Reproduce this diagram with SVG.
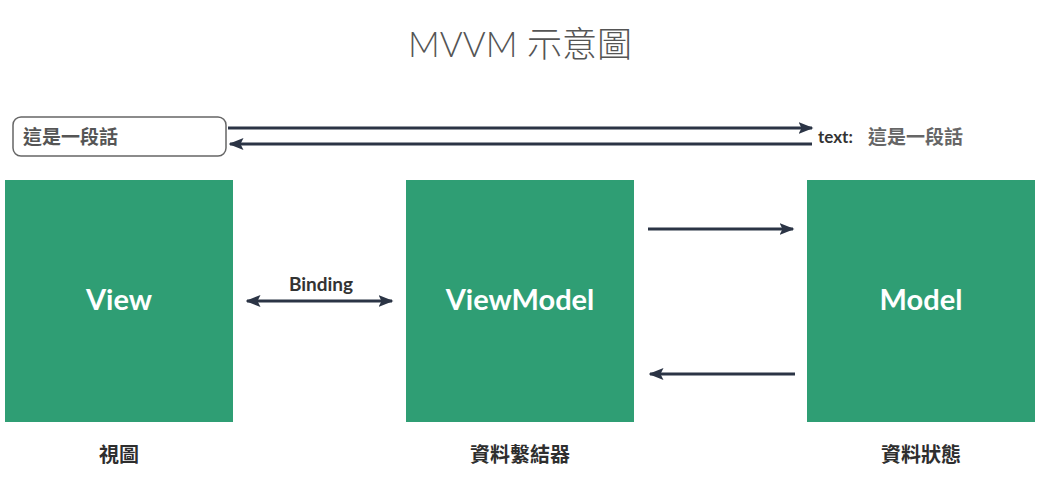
<svg xmlns="http://www.w3.org/2000/svg" width="1047" height="496" viewBox="0 0 1047 496">
<style>
.box{fill:#2f9e74}
.t{font-family:Lato,"Noto Sans CJK TC",sans-serif}
.in{fill:#fff;font-size:29px;font-weight:700;text-anchor:middle}
.lab{fill:#2e2e2e;font-size:20px;font-weight:700;text-anchor:middle}
.ln{stroke:#2b3445;stroke-width:3;fill:none}
</style>
<defs>
<marker id="ah" viewBox="0 0 10 10" refX="9" refY="5" markerWidth="5" markerHeight="5" orient="auto-start-reverse" markerUnits="strokeWidth">
<path d="M0,1 L10,5 L0,9 L2,5 Z" fill="#2b3445"/>
</marker>
</defs>
<rect width="1047" height="496" fill="#fff"/>
<text class="t" x="520" y="57" font-size="35" font-weight="300" fill="#555" text-anchor="middle">MVVM 示意圖</text>
<g id="input">
<rect x="13" y="117" width="213" height="39" rx="8" fill="#fff" stroke="#666" stroke-width="1.5"/>
<text class="t" x="23" y="144" font-size="19" fill="#555" font-weight="700">這是一段話</text>
</g>
<g id="textstate">
<text class="t" x="818" y="143" font-size="17" font-weight="700" fill="#333">text:</text>
<text class="t" x="868" y="144" font-size="19" font-weight="700" fill="#666">這是一段話</text>
</g>
<g id="view">
<rect class="box" x="5" y="180" width="228" height="242"/>
<text class="t in" x="119" y="310">View</text>
<text class="t lab" x="119" y="462">視圖</text>
</g>
<g id="viewmodel">
<rect class="box" x="406" y="180" width="228" height="242"/>
<text class="t in" x="520" y="310">ViewModel</text>
<text class="t lab" x="520" y="462">資料繫結器</text>
</g>
<g id="model">
<rect class="box" x="807" y="180" width="228" height="242"/>
<text class="t in" x="921" y="310">Model</text>
<text class="t lab" x="921" y="462">資料狀態</text>
</g>
<g id="connectors">
<line class="ln" x1="228" y1="128" x2="812" y2="128" marker-end="url(#ah)"/>
<line class="ln" x1="812" y1="144" x2="230" y2="144" marker-end="url(#ah)"/>
<line class="ln" x1="247" y1="301" x2="392" y2="301" marker-start="url(#ah)" marker-end="url(#ah)"/>
<text class="t" x="321" y="291" font-size="19" font-weight="700" fill="#333" text-anchor="middle">Binding</text>
<line class="ln" x1="648" y1="229" x2="793" y2="229" marker-end="url(#ah)"/>
<line class="ln" x1="795" y1="374" x2="650" y2="374" marker-end="url(#ah)"/>
</g>
</svg>
